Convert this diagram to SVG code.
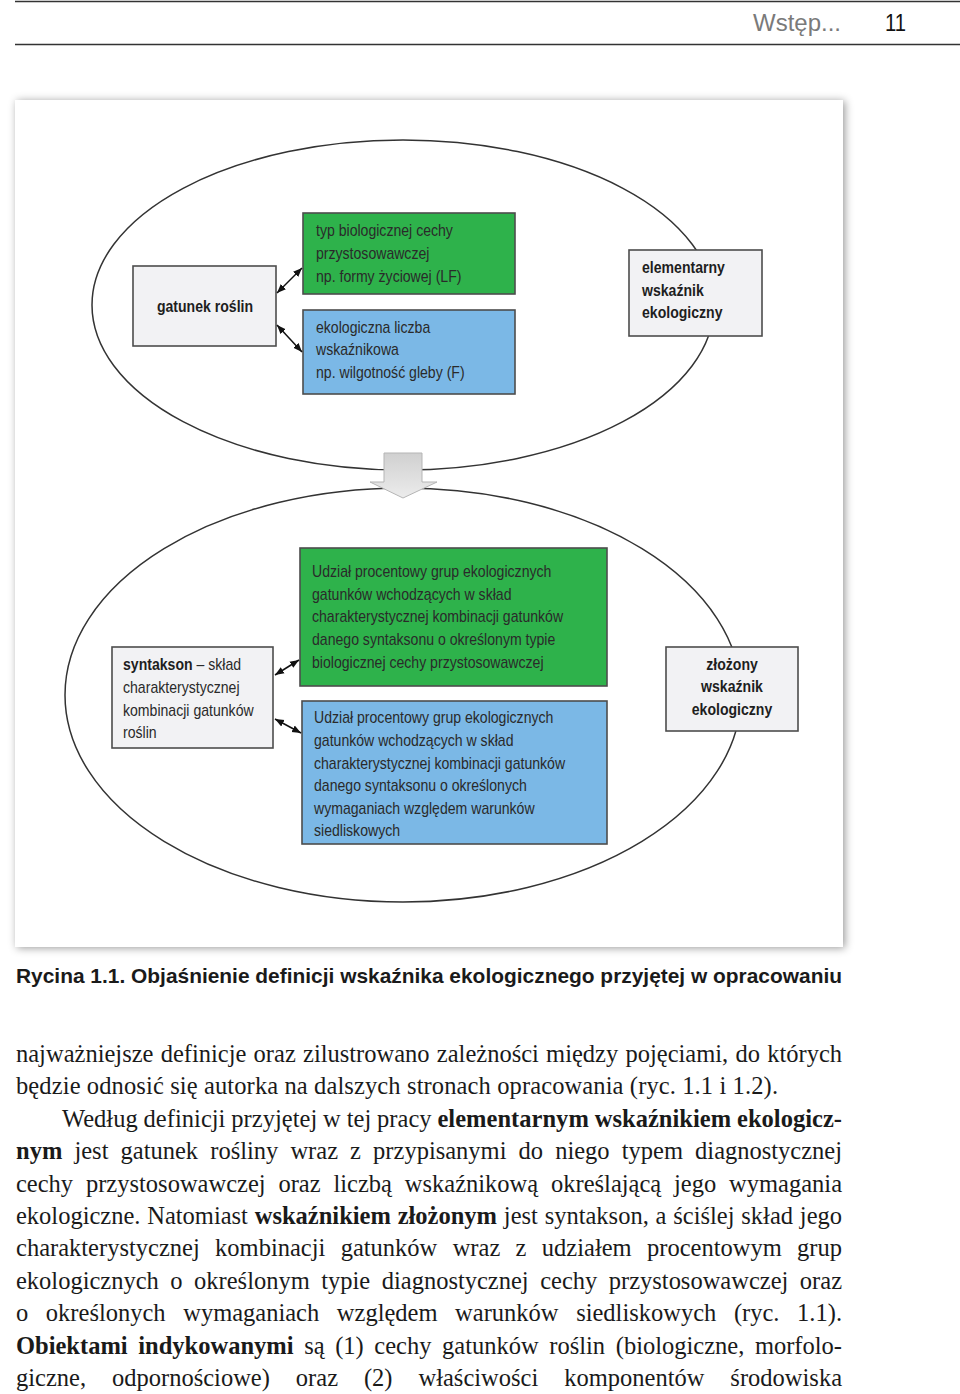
<svg xmlns="http://www.w3.org/2000/svg" width="960" height="1394" viewBox="0 0 960 1394">
<defs>
<filter id="shadow" x="-5%" y="-5%" width="110%" height="110%">
<feDropShadow dx="2" dy="1" stdDeviation="4" flood-color="#000" flood-opacity="0.4"/>
</filter>
<linearGradient id="bigArrow" x1="0" y1="0" x2="0" y2="1">
<stop offset="0" stop-color="#d0d0d0"/>
<stop offset="1" stop-color="#ececec"/>
</linearGradient>
<marker id="ah" viewBox="0 0 10 10" refX="10" refY="5" markerWidth="9" markerHeight="9" markerUnits="userSpaceOnUse" orient="auto-start-reverse">
<path d="M0,1 L10,5 L0,9 z" fill="#111"/>
</marker>
</defs>
<style>
.gray{fill:#f2f2f4;stroke:#4d4d4d;stroke-width:1.6}
.green{fill:#2eb24b;stroke:#4d4d4d;stroke-width:1.6}
.blue{fill:#7bb8e6;stroke:#4d4d4d;stroke-width:1.6}
.lbl{font-family:"Liberation Sans",Arial,sans-serif;font-size:16px;fill:#2a2a2a}
.b{font-weight:bold;fill:#1e1e1e}
.ell{fill:none;stroke:#333;stroke-width:1.5}
.conn{stroke:#111;stroke-width:1.5;fill:none;marker-start:url(#ah);marker-end:url(#ah)}
.body{font-family:"Liberation Serif","Times New Roman",serif;font-size:24.5px;fill:#1a1a1a}
.hd{font-family:"Liberation Sans",Arial,sans-serif;font-size:23px}
</style>
<rect x="0" y="0" width="960" height="1394" fill="#fff"/>
<!-- header -->
<g id="header">
<line x1="15" y1="1.5" x2="960" y2="1.5" stroke="#333" stroke-width="1.5"/>
<line x1="15" y1="44.5" x2="960" y2="44.5" stroke="#333" stroke-width="1.5"/>
<text class="hd" x="753" y="31" fill="#7a7a7a" textLength="88" lengthAdjust="spacingAndGlyphs">Wstęp...</text>
<text class="hd" x="885" y="31" fill="#111" textLength="21" lengthAdjust="spacingAndGlyphs">11</text>
</g>
<!-- panel -->
<rect x="15" y="100" width="828" height="847" fill="#fff" filter="url(#shadow)"/>
<g id="ellipses">
<ellipse class="ell" cx="403" cy="305" rx="311" ry="165"/>
<ellipse class="ell" cx="403" cy="695" rx="338" ry="207"/>
</g>
<g id="transition-arrow">
<path d="M384,453 H422 V482 H437 L403,498 L370,482 H384 Z" fill="url(#bigArrow)" stroke="#b5b5b5" stroke-width="1"/>
</g>
<g id="node-gatunek">
<rect class="gray" x="133" y="266" width="143" height="80"/>
<text class="lbl b" text-anchor="middle" transform="translate(205,312) scale(0.88,1)">gatunek roślin</text>
</g>
<g id="node-typ-biologiczny">
<rect class="green" x="303" y="213" width="212" height="81"/>
<text class="lbl" transform="translate(316,236) scale(0.88,1)">typ biologicznej cechy</text>
<text class="lbl" transform="translate(316,259) scale(0.88,1)">przystosowawczej</text>
<text class="lbl" transform="translate(316,282) scale(0.88,1)">np. formy życiowej (LF)</text>
</g>
<g id="node-liczba-wskaznikowa">
<rect class="blue" x="303" y="310" width="212" height="84"/>
<text class="lbl" transform="translate(316,333) scale(0.88,1)">ekologiczna liczba</text>
<text class="lbl" transform="translate(316,355) scale(0.88,1)">wskaźnikowa</text>
<text class="lbl" transform="translate(316,378) scale(0.88,1)">np. wilgotność gleby (F)</text>
</g>
<g id="node-elementarny">
<rect class="gray" x="629" y="250" width="133" height="86"/>
<text class="lbl b" transform="translate(642,273) scale(0.88,1)">elementarny</text>
<text class="lbl b" transform="translate(642,296) scale(0.88,1)">wskaźnik</text>
<text class="lbl b" transform="translate(642,318) scale(0.88,1)">ekologiczny</text>
</g>
<g id="node-syntakson">
<rect class="gray" x="112" y="647" width="161" height="101"/>
<text class="lbl" transform="translate(123,670) scale(0.88,1)"><tspan class="b">syntakson</tspan> – skład</text>
<text class="lbl" transform="translate(123,693) scale(0.88,1)">charakterystycznej</text>
<text class="lbl" transform="translate(123,716) scale(0.88,1)">kombinacji gatunków</text>
<text class="lbl" transform="translate(123,738) scale(0.88,1)">roślin</text>
</g>
<g id="node-udzial-typ">
<rect class="green" x="300" y="548" width="307" height="138"/>
<text class="lbl" transform="translate(312,577) scale(0.88,1)">Udział procentowy grup ekologicznych</text>
<text class="lbl" transform="translate(312,600) scale(0.88,1)">gatunków wchodzących w skład</text>
<text class="lbl" transform="translate(312,622) scale(0.88,1)">charakterystycznej kombinacji gatunków</text>
<text class="lbl" transform="translate(312,645) scale(0.88,1)">danego syntaksonu o określonym typie</text>
<text class="lbl" transform="translate(312,668) scale(0.88,1)">biologicznej cechy przystosowawczej</text>
</g>
<g id="node-udzial-wymagania">
<rect class="blue" x="302" y="701" width="305" height="143"/>
<text class="lbl" transform="translate(314,723) scale(0.88,1)">Udział procentowy grup ekologicznych</text>
<text class="lbl" transform="translate(314,746) scale(0.88,1)">gatunków wchodzących w skład</text>
<text class="lbl" transform="translate(314,769) scale(0.88,1)">charakterystycznej kombinacji gatunków</text>
<text class="lbl" transform="translate(314,791) scale(0.88,1)">danego syntaksonu o określonych</text>
<text class="lbl" transform="translate(314,814) scale(0.88,1)">wymaganiach względem warunków</text>
<text class="lbl" transform="translate(314,836) scale(0.88,1)">siedliskowych</text>
</g>
<g id="node-zlozony">
<rect class="gray" x="666" y="647" width="132" height="84"/>
<text class="lbl b" text-anchor="middle" transform="translate(732,670) scale(0.88,1)">złożony</text>
<text class="lbl b" text-anchor="middle" transform="translate(732,692) scale(0.88,1)">wskaźnik</text>
<text class="lbl b" text-anchor="middle" transform="translate(732,715) scale(0.88,1)">ekologiczny</text>
</g>
<g id="connectors">
<line class="conn" x1="277" y1="293" x2="302" y2="268"/>
<line class="conn" x1="277" y1="325" x2="302" y2="352"/>
<line class="conn" x1="275" y1="675" x2="299" y2="660"/>
<line class="conn" x1="275" y1="719" x2="301" y2="733"/>
</g>
<!-- caption -->
<text x="16" y="983" font-family="'Liberation Sans',Arial,sans-serif" font-weight="bold" font-size="20.5" fill="#1a1a1a" textLength="826" lengthAdjust="spacingAndGlyphs">Rycina 1.1. Objaśnienie definicji wskaźnika ekologicznego przyjętej w opracowaniu</text>
<!-- body text -->
<g id="body-text">
<text class="body" x="16" y="1062" word-spacing="1.1" textLength="826" lengthAdjust="spacing">najważniejsze definicje oraz zilustrowano zależności między pojęciami, do których</text>
<text class="body" x="16" y="1094.4" textLength="762" lengthAdjust="spacing">będzie odnosić się autorka na dalszych stronach opracowania (ryc. 1.1 i 1.2).</text>
<text class="body" x="62" y="1126.8" word-spacing="-0.3" textLength="780" lengthAdjust="spacing">Według definicji przyjętej w tej pracy <tspan font-weight="bold">elementarnym wskaźnikiem ekologicz-</tspan></text>
<text class="body" x="16" y="1159.2" word-spacing="6" textLength="826" lengthAdjust="spacing"><tspan font-weight="bold">nym</tspan> jest gatunek rośliny wraz z przypisanymi do niego typem diagnostycznej</text>
<text class="body" x="16" y="1191.6" word-spacing="6.7" textLength="826" lengthAdjust="spacing">cechy przystosowawczej oraz liczbą wskaźnikową określającą jego wymagania</text>
<text class="body" x="16" y="1224" word-spacing="0.7" textLength="826" lengthAdjust="spacing">ekologiczne. Natomiast <tspan font-weight="bold">wskaźnikiem złożonym</tspan> jest syntakson, a ściślej skład jego</text>
<text class="body" x="16" y="1256.4" word-spacing="9.2" textLength="826" lengthAdjust="spacing">charakterystycznej kombinacji gatunków wraz z udziałem procentowym grup</text>
<text class="body" x="16" y="1288.8" word-spacing="5.4" textLength="826" lengthAdjust="spacing">ekologicznych o określonym typie diagnostycznej cechy przystosowawczej oraz</text>
<text class="body" x="16" y="1321.2" word-spacing="11.5" textLength="826" lengthAdjust="spacing">o określonych wymaganiach względem warunków siedliskowych (ryc. 1.1).</text>
<text class="body" x="16" y="1353.6" word-spacing="4.5" textLength="826" lengthAdjust="spacing"><tspan font-weight="bold">Obiektami indykowanymi</tspan> są (1) cechy gatunków roślin (biologiczne, morfolo-</text>
<text class="body" x="16" y="1386" word-spacing="19.8" textLength="826" lengthAdjust="spacing">giczne, odpornościowe) oraz (2) właściwości komponentów środowiska</text>
</g>
</svg>
